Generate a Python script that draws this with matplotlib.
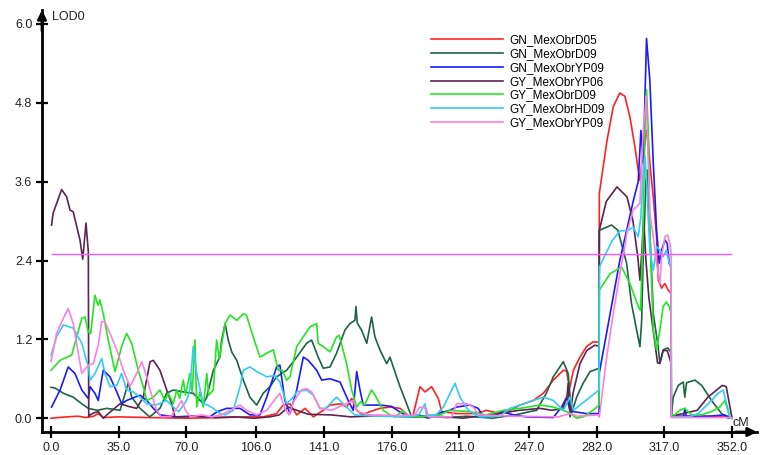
import numpy as np
import matplotlib
matplotlib.use("Agg")
import matplotlib.pyplot as plt

plt.rcParams["font.family"] = ["Liberation Sans", "DejaVu Sans"]

# LOD profiles along the concatenated linkage map, (cM, LOD) pairs
gn_d05 = [(0, 0.0), (8, 0.02), (14, 0.03), (18, 0.01), (22, 0.03), (24.4, 0.07), (27, 0.01),
          (35, 0.02), (50, 0.01), (70, 0.0), (90, 0.01), (100, 0.02), (109.7, 0.02),
          (116.6, 0.07), (120, 0.2), (123.5, 0.22), (127, 0.05), (131.3, 0.15), (135.6, 0.02),
          (140.7, 0.12), (144.2, 0.2), (149.4, 0.22), (152.8, 0.17), (155.4, 0.3), (158, 0.12),
          (161, 0.05), (164.9, 0.1), (170, 0.15), (175.2, 0.17), (180.4, 0.15), (185.5, 0.02),
          (187, 0.03), (190.7, 0.48), (193.3, 0.4), (196.7, 0.48), (200.2, 0.3), (201.9, 0.1),
          (210, 0.07), (220, 0.07), (225, 0.12), (232, 0.07), (237.2, 0.12), (242.4, 0.2),
          (249.3, 0.27), (254.5, 0.38), (259.6, 0.58), (264.8, 0.73), (266.5, 0.72), (268, 0.45),
          (270, 0.73), (273.4, 0.93), (276.8, 1.09), (280.1, 1.16), (283.3, 1.16), (283.4, 3.42),
          (287.4, 4.23), (290.6, 4.74), (294, 4.95), (296.6, 4.9), (299.2, 4.59), (301.8, 4.13),
          (303.5, 3.78), (304.4, 3.62), (305.3, 3.88), (307, 4.18), (307.8, 4.38), (308.7, 4.23),
          (309.5, 3.88), (311.3, 3.37), (313, 2.76), (313.9, 2.1), (315.6, 1.98), (317.3, 2.05),
          (319, 1.95), (320.5, 1.9), (320.6, 0.02), (330, 0.03), (340, 0.03), (352, 0.02)]

gn_d09 = [(0, 0.47), (2, 0.46), (6.4, 0.38), (11.5, 0.32), (15.9, 0.22), (19.3, 0.15), (24, 0.12),
          (28.8, 0.15), (35.7, 0.12), (40, 0.54), (41.7, 0.32), (46, 0.15), (51, 0.02), (56.3, 0.15),
          (59.8, 0.38), (63.2, 0.43), (68.4, 0.4), (73.5, 0.38), (78.7, 0.22), (80.5, 0.32),
          (83.9, 0.73), (87.3, 0.93), (88.2, 1.19), (90, 1.44), (91.6, 1.19), (93.4, 1.01),
          (96, 0.88), (99.4, 0.58), (102.8, 0.32), (106.3, 0.2), (109.7, 0.38), (113.2, 0.48),
          (116.6, 0.63), (121.8, 0.73), (127, 0.93), (132.1, 1.14), (134.7, 1.19), (138.1, 0.93),
          (140.7, 0.76), (144.2, 0.78), (147.6, 0.99), (151.9, 1.34), (154.5, 1.44), (157.1, 1.49),
          (157.6, 1.7), (158.3, 1.45), (160.5, 1.34), (163.2, 1.14), (165.7, 1.54), (167.4, 1.24),
          (170, 1.04), (173.5, 0.83), (175.2, 0.93), (176.9, 0.78), (180.4, 0.48), (183.8, 0.22),
          (186.4, 0.02), (195, 0.03), (205, 0.01), (215, 0.03), (228, 0.0), (240, 0.05),
          (247.5, 0.1), (251, 0.12), (256, 0.38), (259.6, 0.63), (264.8, 0.86), (267.3, 0.68),
          (269, 0.07), (271.7, 0.32), (275, 0.53), (278.6, 0.71), (283.3, 0.76), (283.4, 2.86),
          (289.7, 2.94), (293, 2.86), (297.5, 2.36), (300, 1.75), (302.7, 1.34), (304.4, 1.09),
          (305.3, 1.49), (306, 2.36), (307.5, 3.62), (308.2, 3.78), (309.5, 2.86), (311.3, 1.59),
          (313.8, 1.09), (314.7, 0.83), (316.4, 1.04), (318.8, 1.07), (320.5, 1.0), (320.6, 0.02),
          (321.6, 0.32), (324.2, 0.5), (326.8, 0.55), (327.6, 0.32), (328.5, 0.54), (332.8, 0.58),
          (336.3, 0.5), (341.4, 0.27), (346.6, 0.07), (350, 0.0), (352, 0.0)]

gn_yp09 = [(0.3, 0.17), (4.7, 0.43), (8.9, 0.78), (12.4, 0.68), (15.9, 0.43), (19.3, 0.3),
           (20.2, 0.48), (22.7, 0.38), (24.4, 0.27), (27, 0.73), (30.5, 0.63), (34, 0.4),
           (36.5, 0.22), (39.1, 0.27), (46, 0.35), (49.5, 0.27), (52.9, 0.15), (56.3, 0.05),
           (65, 0.02), (75, 0.03), (82, 0.02), (86, 0.1), (90.8, 0.15), (97.7, 0.15), (102.8, 0.05),
           (108, 0.05), (111.5, 0.32), (116.6, 0.78), (118.3, 0.81), (120.9, 0.27), (123.5, 0.07),
           (127, 0.43), (130.4, 0.93), (133, 0.88), (137.3, 0.73), (139.9, 0.58), (144.2, 0.6),
           (149.4, 0.55), (153.6, 0.27), (156.2, 0.12), (158, 0.71), (159.7, 0.43), (161.4, 0.2),
           (170, 0.2), (176, 0.18), (180, 0.1), (185, 0.02), (190, 0.05), (195, 0.0), (201, 0.08),
           (206, 0.12), (209.7, 0.17), (216.5, 0.2), (220.8, 0.15), (223.4, 0.02), (230.3, 0.05),
           (232.9, 0.1), (239, 0.05), (245.8, 0.02), (259.6, 0.01), (263.9, 0.17), (266.5, 0.32),
           (268.2, 0.12), (270, 0.1), (276.8, 0.07), (283.3, 0.07), (283.4, 0.69), (294, 2.4),
           (300.9, 3.3), (303.5, 3.6), (304.9, 4.38), (306.1, 3.88), (307, 4.9), (307.8, 5.78),
           (309.5, 5.15), (311.3, 3.88), (313, 2.86), (314.4, 2.36), (315.6, 2.56), (317.3, 2.71),
           (318.5, 2.66), (319.5, 2.36), (320.5, 2.3), (320.6, 0.03), (327, 0.03), (327.6, 0.15),
           (328.3, 0.03), (340, 0.03), (348, 0.05), (352, 0.0)]

gy_yp06 = [(0.3, 2.94), (1.1, 3.12), (5.5, 3.48), (8.1, 3.37), (9.8, 3.17), (11.5, 3.14), (15, 2.71),
           (16.4, 2.42), (18.1, 2.97), (19.3, 2.53), (19.5, 0.03), (20.2, 0.05), (22, 0.08),
           (24.5, 0.1), (27, 0.0), (30, 0.08), (35.7, 0.22), (40, 0.18), (44.3, 0.15), (47.7, 0.32),
           (51.2, 0.86), (52.9, 0.88), (56.3, 0.73), (59.8, 0.43), (62.4, 0.22), (64, 0.02),
           (75, 0.03), (85, 0.01), (95, 0.02), (105, 0.0), (113, 0.02), (118, 0.05), (122.6, 0.17),
           (127, 0.12), (133, 0.06), (145, 0.05), (155, 0.02), (170, 0.04), (185, 0.02), (200, 0.03),
           (213, 0.0), (225, 0.05), (233.6, 0.08), (242, 0.12), (252.7, 0.15), (259, 0.12),
           (264.6, 0.15), (266.7, 0.32), (267.3, 0.53), (268.3, 0.02), (269.8, 0.38), (273.4, 0.83),
           (276.9, 1.03), (281, 1.11), (283.3, 1.1), (283.4, 2.86), (287, 3.3), (292.5, 3.52),
           (297.7, 3.37), (300.8, 3.0), (303.3, 2.45), (304.4, 2.1), (305.5, 2.6), (306.3, 3.06),
           (307.5, 2.4), (309, 1.84), (313.5, 0.84), (314.7, 0.84), (316.4, 1.03), (318.5, 1.03),
           (320.5, 0.84), (320.6, 0.03), (334, 0.12), (339.5, 0.32), (347, 0.5), (349, 0.48),
           (352, 0.0)]

gy_d09 = [(0, 0.73), (4.7, 0.88), (10.7, 0.96), (15.9, 1.52), (17.6, 1.54), (19.3, 1.31), (20.5, 1.29),
          (22.7, 1.87), (24.4, 1.72), (25.3, 1.8), (27, 1.59), (29.6, 1.19), (33.1, 0.71), (36.5, 1.09),
          (39.1, 1.29), (41.7, 1.14), (45.1, 0.73), (47.7, 0.48), (49.5, 0.27), (52.9, 0.32),
          (56.3, 0.43), (58.9, 0.27), (60.6, 0.38), (63.2, 0.22), (65, 0.43), (66.5, 0.3), (68.4, 0.58),
          (69.5, 0.35), (71.8, 0.68), (73, 0.4), (74.4, 1.19), (75.3, 0.17), (77, 0.4), (78.7, 0.17),
          (80.5, 0.68), (81.5, 0.35), (83.9, 0.43), (85.6, 1.19), (87, 0.9), (90, 1.44), (92.5, 1.57),
          (96, 1.49), (99.4, 1.59), (101, 1.57), (104.5, 1.24), (108, 0.93), (111.5, 0.99),
          (114.9, 1.04), (117.5, 0.73), (119.5, 0.73), (121.8, 0.58), (123.5, 0.63), (127, 1.09),
          (130.4, 1.24), (133.9, 1.39), (137.3, 1.44), (138.1, 1.14), (140.7, 1.09), (144.2, 1.01),
          (147.6, 1.24), (149, 1.26), (152.8, 0.83), (155.4, 0.43), (158, 0.17), (160, 0.25),
          (162, 0.2), (165.7, 0.43), (167.5, 0.35), (171.7, 0.12), (175.2, 0.05), (178, 0.02),
          (182, 0.12), (184, 0.02), (195, 0.03), (201, 0.05), (206, 0.12), (216.5, 0.1), (225, 0.05),
          (233.7, 0.12), (242.4, 0.15), (252.7, 0.2), (259.6, 0.17), (264.8, 0.12), (268, 0.08),
          (271.7, 0.0), (275, 0.02), (280.1, 0.12), (283.3, 0.2), (283.4, 1.95), (289, 2.2),
          (294.9, 2.3), (299.2, 2.05), (303.5, 1.7), (304.7, 1.64), (306, 2.86), (307, 4.38),
          (307.8, 5.0), (308.7, 4.38), (309.5, 2.86), (311.3, 1.34), (313, 1.04), (314.7, 1.34),
          (316.4, 1.7), (318.1, 1.77), (319.5, 1.7), (320.5, 1.6), (320.6, 0.05), (322.4, 0.05),
          (325, 0.12), (327.6, 0.15), (331, 0.05), (336, 0.05), (341.4, 0.1), (345.7, 0.17),
          (348.3, 0.27), (351, 0.0), (352, 0.0)]

gy_hd09 = [(0, 0.96), (2.9, 1.24), (6.4, 1.42), (11.5, 1.37), (15.9, 1.14), (19.3, 0.78), (20.2, 0.58),
           (22.7, 0.68), (26.2, 0.91), (27.9, 0.68), (30.5, 0.48), (34, 0.5), (36.5, 0.68), (39.1, 0.43),
           (42.5, 0.4), (46, 0.32), (49.5, 0.22), (53.7, 0.2), (56, 0.22), (59.8, 0.27), (63.2, 0.17),
           (66, 0.1), (70.1, 0.27), (71.8, 0.43), (73.5, 1.09), (75.3, 0.68), (78.7, 0.22), (81, 0.2),
           (83.9, 0.15), (87.3, 0.07), (90, 0.05), (94.2, 0.12), (97.7, 0.48), (99.4, 0.73),
           (102.8, 0.78), (106.3, 0.71), (111.5, 0.63), (115.8, 0.65), (118.3, 0.55), (121.8, 0.22),
           (125.2, 0.32), (127, 0.4), (132.1, 0.43), (135.6, 0.35), (139, 0.15), (142, 0.15),
           (145.9, 0.27), (147.6, 0.32), (151, 0.22), (154.5, 0.12), (157, 0.05), (170, 0.03),
           (185, 0.02), (190, 0.05), (193.3, 0.22), (194, 0.05), (199, 0.05), (202.8, 0.17),
           (208.8, 0.53), (211.4, 0.32), (215.7, 0.12), (221.7, 0.02), (232, 0.03), (237.2, 0.15),
           (242.4, 0.2), (249.3, 0.27), (254.5, 0.32), (259.6, 0.27), (264.8, 0.12), (268.2, 0.32),
           (270, 0.12), (273.4, 0.2), (278.6, 0.32), (283.3, 0.43), (283.4, 2.3), (290, 2.7),
           (294, 2.85), (298.4, 2.86), (300.9, 2.91), (303.5, 2.76), (304.9, 3.07), (306.1, 3.78),
           (307, 3.98), (307.8, 3.62), (309.5, 2.56), (311.3, 2.25), (313, 2.61), (314.7, 2.56),
           (316.4, 2.46), (318.1, 2.56), (319.5, 2.36), (320.5, 2.3), (320.6, 0.02), (330, 0.02),
           (334.5, 0.07), (339.7, 0.22), (344.9, 0.38), (347.4, 0.43), (350.9, 0.02), (352, 0.0)]

gy_yp09 = [(0, 0.86), (2.9, 1.29), (6.4, 1.52), (8.9, 1.67), (11.5, 1.44), (14.1, 0.99), (15.9, 0.68),
           (19.3, 0.81), (21.9, 0.83), (24.4, 1.11), (26.2, 1.47), (27.9, 1.47), (30.5, 1.29),
           (34, 1.04), (37.4, 0.73), (40.8, 0.48), (44.3, 0.68), (46.9, 0.86), (49.5, 0.63),
           (51.2, 0.43), (54.6, 0.12), (57, 0.02), (62, 0.03), (65, 0.15), (67.5, 0.27), (69.5, 0.12),
           (72, 0.02), (78, 0.05), (83, 0.02), (88, 0.05), (92.5, 0.12), (97.7, 0.2), (101, 0.12),
           (106.3, 0.05), (111.5, 0.12), (116.6, 0.32), (118.3, 0.38), (120.9, 0.15), (123, 0.05),
           (125.7, 0.27), (129.5, 0.43), (132.1, 0.45), (134.7, 0.4), (139, 0.15), (145, 0.12),
           (151, 0.2), (156.2, 0.27), (158.3, 0.1), (165, 0.05), (180, 0.04), (188, 0.05),
           (190.7, 0.17), (194, 0.15), (195, 0.02), (207, 0.02), (209.7, 0.22), (214.8, 0.22),
           (218.3, 0.17), (221, 0.05), (240, 0.03), (262, 0.02), (268.2, 0.07), (272, 0.03),
           (283.3, 0.05), (283.4, 0.02), (287.2, 0.93), (290.6, 1.59), (294, 2.2), (296.6, 2.61),
           (297.5, 2.8), (300.9, 3.17), (304.4, 3.27), (305.3, 3.88), (306.1, 4.38), (307, 4.64),
           (307.5, 4.9), (308.2, 4.38), (309.5, 3.12), (311.3, 2.76), (313, 2.36), (314.7, 2.05),
           (315.6, 2.46), (317.3, 2.76), (318.7, 2.79), (319.9, 2.66), (320.5, 2.5), (320.6, 0.01),
           (352, 0.01)]

trait_names = ["GN_MexObrD05", "GN_MexObrD09", "GN_MexObrYP09", "GY_MexObrYP06",
               "GY_MexObrD09", "GY_MexObrHD09", "GY_MexObrYP09"]
trait_colors = ["#ff2222", "#1d6347", "#1a1aff", "#5a2552", "#22e622", "#33ccf5", "#ff7fe0"]
profiles = [gn_d05, gn_d09, gn_yp09, gy_yp06, gy_d09, gy_hd09, gy_yp09]

lod_threshold = 2.5
map_length = 352
x_ticks = [0, 35, 70, 106, 141, 176, 211, 247, 282, 317, 352]
y_ticks = [0.0, 1.2, 2.4, 3.6, 4.8, 6.0]

fig = plt.figure(figsize=(7.66, 4.55), dpi=100)
ax = fig.add_axes([42 / 766, 23 / 455, 715 / 766, 422 / 455])

for name, color, prof in zip(trait_names, trait_colors, profiles):
    pts = np.array(prof)
    ax.plot(pts[:, 0], pts[:, 1], color=color, lw=1.2, label=name)

ax.hlines(lod_threshold, 0, map_length, color="#ff55ff", lw=1.0)

ax.set_xlim(-4.65, 364.9)
ax.set_ylim(-0.21, 6.213)

for side in ["top", "right"]:
    ax.spines[side].set_visible(False)
for side in ["left", "bottom"]:
    ax.spines[side].set_linewidth(2.0)
    ax.spines[side].set_color("black")

ax.set_xticks(x_ticks)
ax.set_xticklabels([f"{v:.1f}" for v in x_ticks])
ax.set_yticks(y_ticks)
ax.set_yticklabels([f"{v:.1f}" for v in y_ticks])
ax.tick_params(direction="inout", length=8, width=1.6, labelsize=9, colors="black",
               labelcolor="#222222")
ax.tick_params(axis="x", pad=3.5)
ax.tick_params(axis="y", pad=3)

# arrow heads on the axis ends
arrow = dict(arrowstyle="-|>", color="black", lw=2.0, mutation_scale=13, shrinkA=0, shrinkB=0)
ax.annotate("", xy=(1, 0), xycoords="axes fraction", xytext=(0.97, 0), arrowprops=arrow,
            annotation_clip=False)
ax.annotate("", xy=(0, 1), xycoords="axes fraction", xytext=(0, 0.95), arrowprops=arrow,
            annotation_clip=False)

ax.text(0.5, 6.1, "LOD0", ha="left", va="center", fontsize=9, color="#222222")
ax.text(352, -0.08, "cM", ha="left", va="center", fontsize=9, color="#222222")

ax.legend(loc="upper left", bbox_to_anchor=(431 / 766, 1 - 34 / 455),
          bbox_transform=fig.transFigure, frameon=False, fontsize=8.5,
          handlelength=6.1, handletextpad=0.5, labelspacing=0.16, borderpad=0,
          borderaxespad=0)

fig.savefig("out.png", dpi=100)
